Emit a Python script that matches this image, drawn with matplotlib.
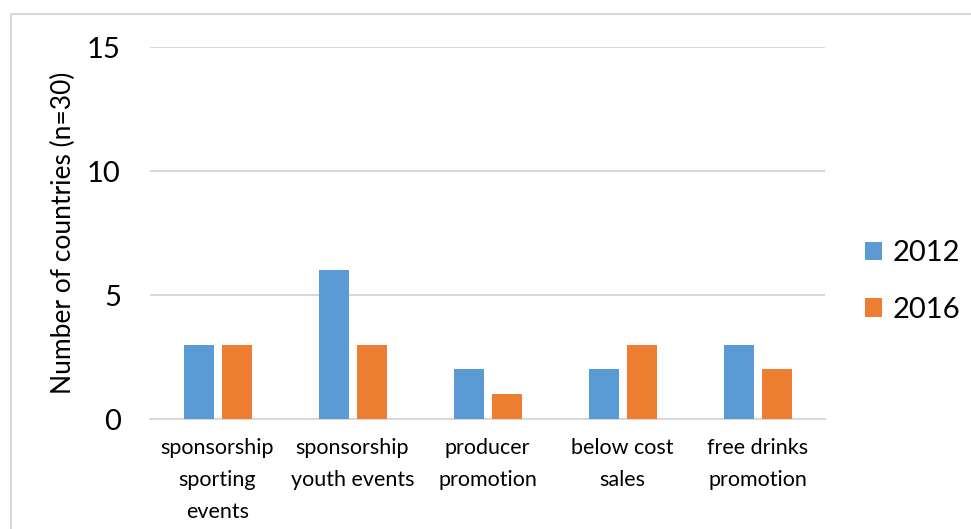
import matplotlib
matplotlib.use("Agg")
import matplotlib.pyplot as plt
from matplotlib.patches import Rectangle
import numpy as np

categories = ["sponsorship\nsporting\nevents", "sponsorship\nyouth events",
              "producer\npromotion", "below cost\nsales", "free drinks\npromotion"]
series_names = ["2012", "2016"]
values_2012 = [3, 6, 2, 2, 3]
values_2016 = [3, 3, 1, 3, 2]
y_ticks = [0, 5, 10, 15]

colors = ["#5B9BD5", "#ED7D31"]
plt.rcParams["font.family"] = ["Lato", "DejaVu Sans"]

fig = plt.figure(figsize=(9.71, 5.29), dpi=100)
# chart frame
fig.patches.append(Rectangle((11 / 971, -0.01), 1.0, 1 - 14 / 529 + 0.01,
                             transform=fig.transFigure, fill=False,
                             edgecolor="#D9D9D9", linewidth=1.5))

ax = fig.add_axes([150 / 971, 1 - 419 / 529, 675 / 971, 372 / 529])
x = np.arange(len(categories))
w = 30 / 135
gap = 8 / 135
ax.bar(x - (w + gap) / 2, values_2012, w, color=colors[0], label=series_names[0], zorder=3)
ax.bar(x + (w + gap) / 2, values_2016, w, color=colors[1], label=series_names[1], zorder=3)

ax.set_xlim(-0.5, len(categories) - 0.5)
ax.set_ylim(0, 15)
ax.set_yticks(y_ticks)
ax.set_yticklabels([str(t) for t in y_ticks], fontsize=21)
ax.set_xticks(x)
ax.set_xticklabels(categories, fontsize=15.5, linespacing=1.75)
ax.tick_params(axis="both", length=0)
ax.tick_params(axis="y", pad=21)
ax.tick_params(axis="x", pad=14)
ax.grid(axis="y", color="#D9D9D9", linewidth=1.5, zorder=0)
for s in ["top", "right", "left"]:
    ax.spines[s].set_visible(False)
ax.spines["bottom"].set_color("#D9D9D9")
ax.spines["bottom"].set_linewidth(1.5)

ax.set_ylabel("Number of countries (n=30)", fontsize=19, labelpad=8)

leg = ax.legend(loc="center left", bbox_to_anchor=(1.02, 0.37), frameon=False,
                fontsize=21, handlelength=0.6, handleheight=0.6,
                handletextpad=0.35, labelspacing=1.05)

fig.savefig("out.png", dpi=100)
